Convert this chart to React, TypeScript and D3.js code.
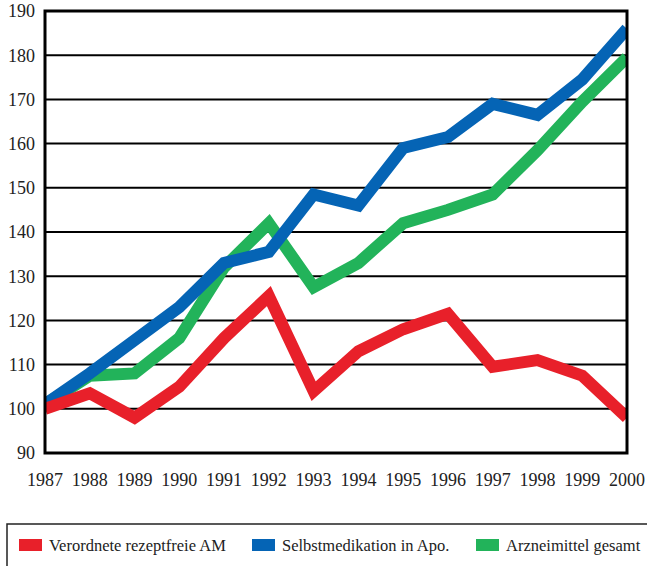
import * as d3 from "d3";

const years = [1987, 1988, 1989, 1990, 1991, 1992, 1993, 1994, 1995, 1996, 1997, 1998, 1999, 2000];
const verordnete = [100, 103.5, 98, 105, 116, 125.5, 104, 113, 118, 121.5, 109.5, 111, 107.5, 98];
const selbstmedikation = [101, 108, 115.5, 123, 133, 135.5, 148.5, 146, 159, 161.5, 169, 166.5, 174.5, 186];
const arzneimittel = [101, 107.5, 108, 116, 132, 142, 127.5, 133, 142, 145, 148.5, 158.5, 169.5, 179.5];
const yTicks = [90, 100, 110, 120, 130, 140, 150, 160, 170, 180, 190];

const series = [
  {name: "Arzneimittel gesamt", values: arzneimittel, color: "#22b35a"},
  {name: "Selbstmedikation in Apo.", values: selbstmedikation, color: "#0564b5"},
  {name: "Verordnete rezeptfreie AM", values: verordnete, color: "#e8202a"},
];
const legendOrder = [series[2], series[1], series[0]];
const legendX = [19, 252, 476];

const W = 647, H = 566;
const PLOT = {left: 45, right: 627, top: 11, bottom: 453};
const FONT = '"Liberation Serif", "DejaVu Serif", serif';

export default function App() {
  const x = d3.scaleLinear().domain([1987, 2000]).range([PLOT.left, PLOT.right]);
  const y = d3.scaleLinear().domain([90, 190]).range([PLOT.bottom, PLOT.top]);
  const line = d3.line<number>()
    .x((_, i) => x(years[i]))
    .y(d => y(d));

  return (
    <svg width={W} height={H} style={{position: "absolute", left: 0, top: 0, fontFamily: FONT}}>
      <defs>
        <clipPath id="plot-clip">
          <rect x={PLOT.left} y={PLOT.top} width={PLOT.right - PLOT.left} height={PLOT.bottom - PLOT.top} />
        </clipPath>
      </defs>
      {yTicks.map(t => (
        <g key={t}>
          <line x1={PLOT.left} x2={PLOT.right} y1={y(t)} y2={y(t)} stroke="#000" strokeWidth={2} />
          <text x={35} y={y(t)} dy="0.35em" textAnchor="end" style={{fontFamily: FONT, fontSize: 18}} fill="#222">{t}</text>
        </g>
      ))}
      {years.map(yr => (
        <text key={yr} x={x(yr)} y={486} textAnchor="middle" style={{fontFamily: FONT, fontSize: 18}} fill="#222">{yr}</text>
      ))}
      <g clipPath="url(#plot-clip)">
        {series.map(s => (
          <path key={s.name} d={line(s.values) ?? ""} fill="none" stroke={s.color}
                strokeWidth={12} strokeLinejoin="miter" strokeLinecap="butt" />
        ))}
      </g>
      <rect x={PLOT.left} y={PLOT.top} width={PLOT.right - PLOT.left} height={PLOT.bottom - PLOT.top}
            fill="none" stroke="#000" strokeWidth={3} />
      <rect x={7} y={524} width={660} height={60} fill="none" stroke="#222" strokeWidth={1.5} />
      {legendOrder.map((s, i) => {
        const lx = legendX[i];
        return (
          <g key={s.name}>
            <rect x={lx} y={539} width={23} height={12} fill={s.color} />
            <text x={lx + 30} y={551} style={{fontFamily: FONT, fontSize: 16.5}} fill="#222">{s.name}</text>
          </g>
        );
      })}
    </svg>
  );
}
